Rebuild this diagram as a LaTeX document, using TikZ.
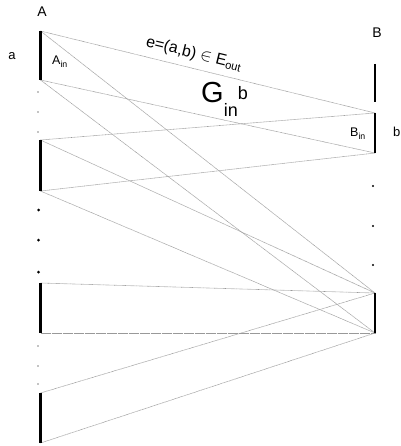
\documentclass[tikz,border=0pt]{standalone}
\usepackage{fontspec}
\setmainfont{Liberation Sans}
\tikzset{
  seg/.style={line width=2.4pt},
  edge/.style={black!40, line width=0.6pt, dash pattern=on 0.6pt off 0.5pt},
  lbl/.style={inner sep=0pt}
}
\begin{document}
\begin{tikzpicture}[x=1pt,y=1pt,yscale=-1,xscale=1]
        \useasboundingbox (0,0) rectangle (400,446);
        % ends of the segments
        \coordinate (a1t) at (40.5,31);  \coordinate (a1b) at (40.5,80);
        \coordinate (a2t) at (40.5,140); \coordinate (a2b) at (40.5,191);
        \coordinate (a3t) at (40.5,283); \coordinate (a3b) at (40.5,333);
        \coordinate (a4t) at (40.5,393); \coordinate (a4b) at (40.5,443);
        \coordinate (b0t) at (375,64);   \coordinate (b0b) at (375,102);
        \coordinate (bint) at (375,113); \coordinate (binb) at (375,153);
        \coordinate (b3t) at (375,293);  \coordinate (b3b) at (375,333);
        % edges
        \draw [edge] (a1t) -- (bint);
        \draw [edge] (a1b) -- (binb);
        \draw [edge] (a2t) -- (bint);
        \draw [edge] (a2b) -- (binb);
        \foreach \i in {1,...,4} {
          \draw [edge] (a\i t) -- (b3t);
          \draw [edge] (a\i b) -- (b3b);
        }
        % segments
        \foreach \i in {1,...,4} \draw [seg] (a\i t) -- (a\i b);
        \draw [seg, line width=2pt] (b0t) -- (b0b);
        \draw [seg, line width=2pt] (bint) -- (binb);
        \draw [seg, line width=2pt] (b3t) -- (b3b);
        % dots
        \foreach \y in {92,112,132,346,366,384} \fill (38,\y) circle (0.7);
        \foreach \y in {210,240,272} \fill (38.5,\y) circle (1.5);
        \foreach \y in {186,226,265} \fill (373,\y) circle (1.2);
        % labels
        \node [lbl, font=\fontsize{14}{14}\selectfont] (alabel) at (42,12) {A};
        \node [lbl, font=\fontsize{14}{14}\selectfont] (blabel) at (377,33) {B};
        \node [lbl, font=\fontsize{13}{13}\selectfont] (avar) at (12,56) {a};
        \node [lbl, font=\fontsize{13}{13}\selectfont, anchor=base west] (bvar) at (393,137) {b};
        \node [lbl, font=\fontsize{12.5}{12.5}\selectfont, anchor=base west] (ain) at (52,65) {A\textsubscript{in}};
        \node [lbl, font=\fontsize{12.5}{12.5}\selectfont, anchor=base west] (bin) at (350,137) {B\textsubscript{in}};
        \node [lbl, font=\fontsize{16}{16}\selectfont, rotate=-13.75] (elabel) at (194,54) {e=(a,b) $\in$ E\textsubscript{out}};
        \node [lbl, anchor=base west] (gin) at (201,103) {\fontsize{29}{29}\selectfont G\fontsize{18}{18}\selectfont\raisebox{-14pt}{in}\raisebox{3pt}{b}};
    \end{tikzpicture}
\end{document}
